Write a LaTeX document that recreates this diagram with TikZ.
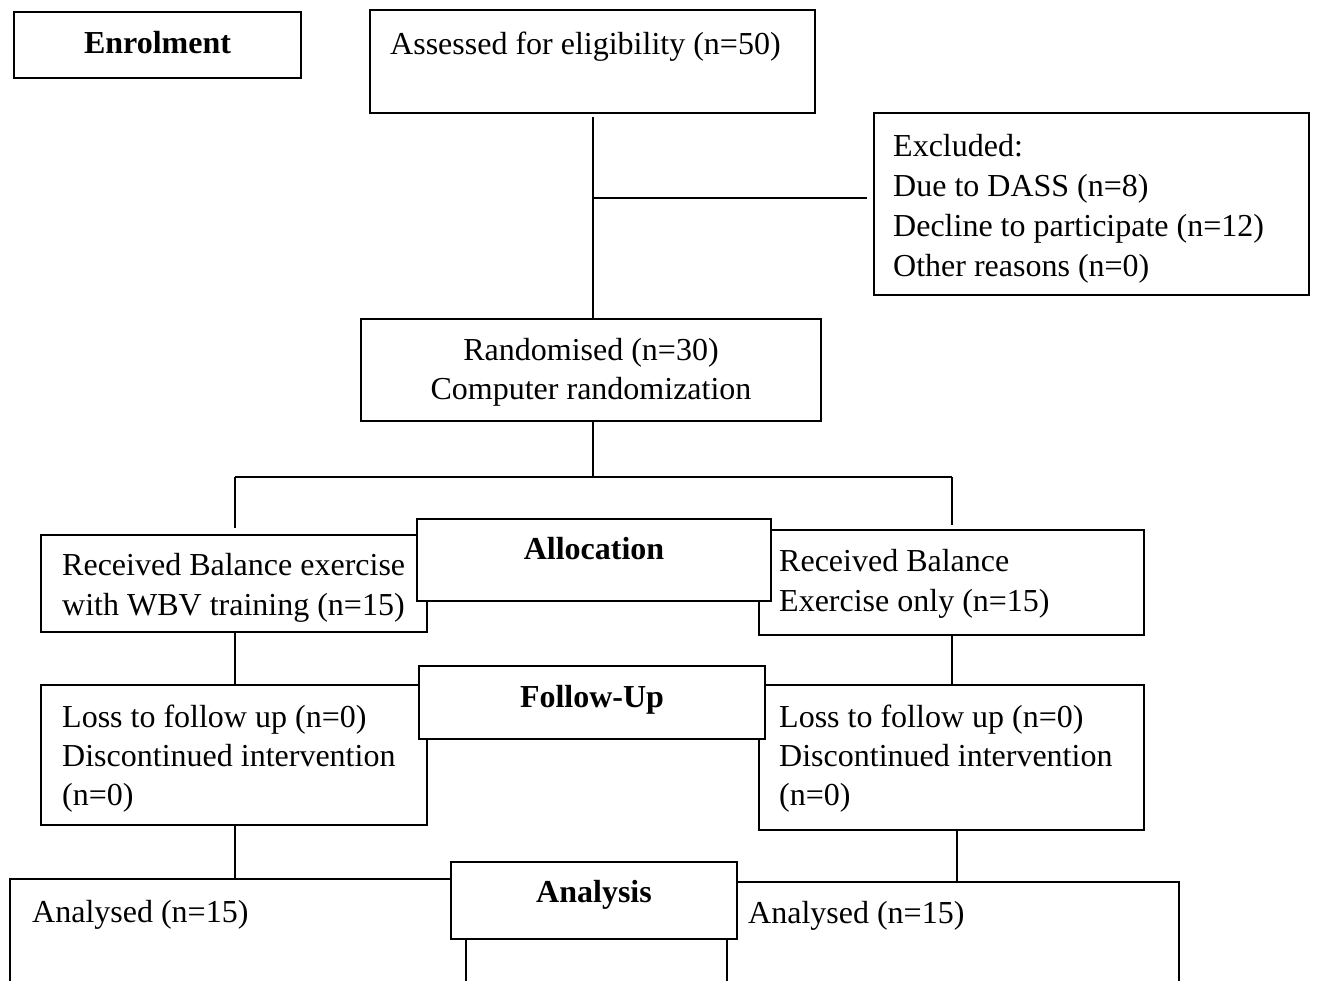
\documentclass[tikz,border=0pt]{standalone}
\usepackage{fontspec}
\setmainfont{Liberation Serif}
\usetikzlibrary{calc}
\begin{document}
\begin{tikzpicture}[x=1pt,y=-1pt]
\tikzset{
  box/.style={draw, line width=1.2pt, fill=white, inner sep=0pt, rectangle},
  conn/.style={line width=2.7pt},
  txt/.style={inner sep=0pt, anchor=base west, font=\fontsize{32}{39.5}\selectfont},
  ctxt/.style={inner sep=0pt, anchor=base, font=\fontsize{32}{39.5}\selectfont},
  head/.style={inner sep=0pt, anchor=base, font=\fontsize{32}{39.5}\selectfont\bfseries},
}
\useasboundingbox (0,0) rectangle (1317,980);
\clip (0,0) rectangle (1317,980);

% boxes
\node[box, minimum width=287, minimum height=66] (enrol) at (157.5,45) {};
\node[box, minimum width=445, minimum height=103] (assess) at (592.5,61.5) {};
\node[box, minimum width=435, minimum height=182] (excl) at (1091.5,204) {};
\node[box, minimum width=460, minimum height=102] (rand) at (591,370) {};

\node[box, minimum width=386, minimum height=97] (recL) at (234,583.5) {};
\node[box, minimum width=385, minimum height=105] (recR) at (951.5,582.5) {};
\node[box, minimum width=354, minimum height=82] (alloc) at (594,560) {};

\node[box, minimum width=386, minimum height=140] (fuL) at (234,755) {};
\node[box, minimum width=385, minimum height=145] (fuR) at (951.5,757.5) {};
\node[box, minimum width=346, minimum height=73] (fu) at (592,702.5) {};

\node[box, minimum width=456, minimum height=140] (anL) at (238,949) {};
\node[box, minimum width=452, minimum height=140] (anR) at (953,952) {};
\node[box, minimum width=286, minimum height=77] (an) at (594,900.5) {};

% texts
\node[head] (tEnrol) at (157.5,53) {Enrolment};
\node[txt] (tAssess) at (390,54) {Assessed for eligibility (n=50)};
\node[txt] (tEx1) at (893,156) {Excluded:};
\node[txt] (tEx2) at (893,196) {Due to DASS (n=8)};
\node[txt] (tEx3) at (893,236) {Decline to participate (n=12)};
\node[txt] (tEx4) at (893,276) {Other reasons (n=0)};
\node[ctxt] (tRand1) at (591,360) {Randomised (n=30)};
\node[ctxt] (tRand2) at (591,399) {Computer randomization};
\node[head] (tAlloc) at (594,559) {Allocation};
\node[txt] (tRecL1) at (62,575) {Received Balance exercise};
\node[txt] (tRecL2) at (62,615) {with WBV training (n=15)};
\node[txt] (tRecR1) at (779,571) {Received Balance};
\node[txt] (tRecR2) at (779,611) {Exercise only (n=15)};
\node[head] (tFu) at (592,707) {Follow-Up};
\node[txt] (tFuL1) at (62,727) {Loss to follow up (n=0)};
\node[txt] (tFuL2) at (62,766) {Discontinued intervention};
\node[txt] (tFuL3) at (62,805) {(n=0)};
\node[txt] (tFuR1) at (779,727) {Loss to follow up (n=0)};
\node[txt] (tFuR2) at (779,766) {Discontinued intervention};
\node[txt] (tFuR3) at (779,805) {(n=0)};
\node[head] (tAn) at (594,902) {Analysis};
\node[txt] (tAnL) at (32,922) {Analysed (n=15)};
\node[txt] (tAnR) at (748,923) {Analysed (n=15)};

% connectors
\coordinate (a1) at (593,117);
\coordinate (a2) at (593,198);
\coordinate (b0) at (593,477);
\coordinate (bL) at (235,477);
\coordinate (bR) at (952,477);
\coordinate (cL) at (235,528);
\coordinate (cR) at (952,525);
\coordinate (c8) at (957,0);
\draw[conn] (a1) -- (rand.north -| a1);
\draw[conn] (a2) -- ([xshift=-6pt]excl.west |- a2);
\draw[conn] (rand.south -| a1) -- (b0);
\draw[conn] (bL) -- (bR);
\draw[conn] (bL) -- (cL);
\draw[conn] (bR) -- (cR);
\draw[conn] (recL.south -| bL) -- (fuL.north -| bL);
\draw[conn] (recR.south -| bR) -- (fuR.north -| bR);
\draw[conn] (fuL.south -| bL) -- (anL.north -| bL);
\draw[conn] (fuR.south -| c8) -- (anR.north -| c8);
\end{tikzpicture}
\end{document}
